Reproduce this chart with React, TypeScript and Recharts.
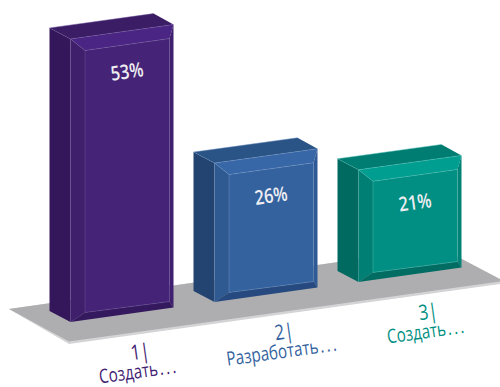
import React from 'react';
import { Bar, BarChart, Customized, LabelList, XAxis, YAxis } from 'recharts';

const ranks = ['1|', '2|', '3|'];
const answers = ['Создать…', 'Разработать…', 'Создать…'];
const shares = [53, 26, 21];

const chartData = ranks.map((rank, i) => ({ rank, answer: answers[i], share: shares[i] }));

const palettes = [
  { side: '#34175a', lid: '#3b1d66', bevelTop: '#4b2583', bevelLeft: '#3f1f6c', face: '#452376', bevelRight: '#3f1f70', bevelBottom: '#35195f', edge: '#6d559c', text: '#3f2272' },
  { side: '#234471', lid: '#2b5486', bevelTop: '#3767a7', bevelLeft: '#2e5991', face: '#33629e', bevelRight: '#2e5b96', bevelBottom: '#26497f', edge: '#6c90c0', text: '#33629e' },
  { side: '#006a60', lid: '#007d72', bevelTop: '#009e90', bevelLeft: '#007f74', face: '#008f82', bevelRight: '#008277', bevelBottom: '#006c62', edge: '#4dbcb0', text: '#008f82' },
];

// everything on the page leans upward to the right
const SLOPE = 0.139;
const ORIGIN_X = 70;
const lift = (x: number) => (x - ORIGIN_X) * SLOPE;

const pts = (list: number[][]) => list.map((p) => p.join(',')).join(' ');

function Floor() {
  return (
    <g>
      <polygon points={pts([[9, 309], [440, 247.5], [500, 280], [500, 284], [69, 344]])} fill="#d4d4d6" />
      <polygon points={pts([[9, 309], [440, 247.5], [500, 279], [500, 281.5], [69, 341.5]])} fill="#aeaeb0" />
    </g>
  );
}

function BoxBar(props: any) {
  const { x, y, width, height, index } = props;
  const c = palettes[index];
  const r = x + width;
  const b = y + height;

  const tl = [x, y - lift(x)];
  const tr = [r, y - lift(r)];
  const br = [r, b - lift(r)];
  const bl = [x, b - lift(x)];

  const backL = [tl[0] - 21, tl[1] - 11];
  const backR = [tr[0] - 20, tr[1] - 11];
  const lowL = [bl[0] - 21, bl[1] - 11];

  const inTL = [tl[0] + 14.5, tl[1] + 11.5];
  const inTR = [tr[0] - 4, tr[1] + 14];
  const inBR = [br[0] - 4, br[1] - 6];
  const inBL = [bl[0] + 14.5, bl[1] - 9.5];

  const line = (a: number[], q: number[], opacity = 0.8) => (
    <line x1={a[0]} y1={a[1]} x2={q[0]} y2={q[1]} stroke={c.edge} strokeWidth={0.6} strokeOpacity={opacity} />
  );

  return (
    <g>
      <polygon points={pts([backL, tl, bl, lowL])} fill={c.side} />
      <polygon points={pts([backL, backR, tr, tl])} fill={c.lid} />
      <polygon points={pts([tl, tr, inTR, inTL])} fill={c.bevelTop} />
      <polygon points={pts([tl, inTL, inBL, bl])} fill={c.bevelLeft} />
      <polygon points={pts([tr, br, inBR, inTR])} fill={c.bevelRight} />
      <polygon points={pts([bl, inBL, inBR, br])} fill={c.bevelBottom} />
      <polygon points={pts([inTL, inTR, inBR, inBL])} fill={c.face} />
      {line(backL, backR)}
      {line(backL, tl, 0.5)}
      {line(tl, tr)}
      {line(tl, inTL, 0.5)}
      {line(tl, bl, 0.5)}
      {line(inTL, inTR)}
      {line(inTL, inBL)}
      {line(inTR, inBR, 0.5)}
      {line(inBL, inBR)}
    </g>
  );
}

function ShareLabel(props: any) {
  const { x, y, width, value } = props;
  const cx = x + width / 2 + 6;
  const cy = y - lift(cx) + 47.5;
  return (
    <text
      transform={`translate(${cx} ${cy}) rotate(-8) scale(0.82 1)`}
      textAnchor="middle"
      fontFamily="'Open Sans', sans-serif"
      fontSize={20}
      fontWeight={600}
      fill="#eeeef2"
    >
      {value}%
    </text>
  );
}

function AnswerTick(props: any) {
  const { x, y, index, payload } = props;
  const c = palettes[index];
  const cx = x + 17;
  const base = y - lift(cx);
  // the dots sit apart from the word, so they get their own spacing
  const word = answers[index].replace('…', '');
  return (
    <g>
      <text
        transform={`translate(${cx + 2.5} ${base + 44.5}) rotate(-8) scale(0.8 1)`}
        textAnchor="middle"
        fontFamily="'Open Sans', sans-serif"
        fontSize={21}
        fill={c.text}
      >
        {payload.value}
      </text>
      <text
        transform={`translate(${cx + 1} ${base + 63.5}) rotate(-8) scale(0.78 1)`}
        textAnchor="middle"
        fontFamily="'Open Sans', sans-serif"
        fontSize={19.5}
        fill={c.text}
      >
        {word}
        <tspan dx={2} letterSpacing={3}>...</tspan>
      </text>
    </g>
  );
}

export default function App() {
  return (
    <div style={{ position: 'absolute', left: 0, top: 0, width: 500, height: 387 }}>
      <BarChart
        width={500}
        height={387}
        data={chartData}
        barSize={103}
        margin={{ top: 39, right: 18.5, bottom: 0, left: 49.5 }}
      >
        <Customized component={Floor} />
        <XAxis
          dataKey="rank"
          height={65}
          interval={0}
          axisLine={false}
          tickLine={false}
          tickSize={0}
          tick={<AnswerTick />}
        />
        <YAxis hide domain={[0, 53]} />
        <Bar dataKey="share" shape={<BoxBar />} isAnimationActive={false}>
          <LabelList dataKey="share" content={<ShareLabel />} />
        </Bar>
      </BarChart>
    </div>
  );
}
